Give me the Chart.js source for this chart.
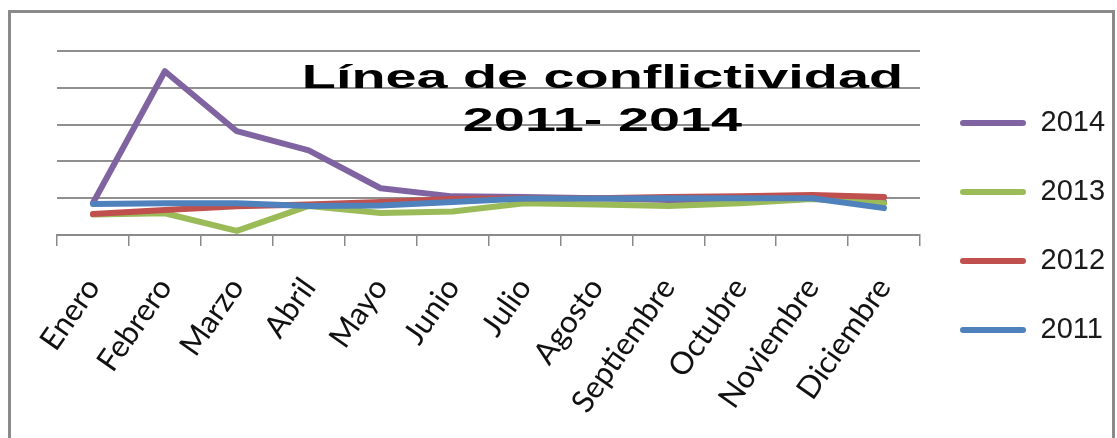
<!DOCTYPE html>
<html>
<head>
<meta charset="utf-8">
<script src="https://cdn.jsdelivr.net/npm/chart.js@4"></script>
<style>
  html, body { margin: 0; padding: 0; background: #fff; }
  body { width: 1117px; height: 438px; position: relative; overflow: hidden; }
  #frame {
    position: absolute; left: 8px; top: 10px; width: 1107px; height: 500px;
    box-sizing: border-box; border: 3px solid #8a8a8a;
  }
  #wrap { position: absolute; left: 0; top: 0; width: 1117px; height: 438px; }
</style>
</head>
<body>
<div id="frame"></div>
<div id="wrap"><canvas id="chart"></canvas></div>
<script>
// Months on the x axis
const months = ['Enero', 'Febrero', 'Marzo', 'Abril', 'Mayo', 'Junio', 'Julio',
                'Agosto', 'Septiembre', 'Octubre', 'Noviembre', 'Diciembre'];

// Values (no scale shown, gridlines every 10 units)
const y2014 = [8.7, 44.5, 28.2, 23.0, 12.7, 10.5, 10.3, 10.0, 9.5, 8.8, 10.0, 9.0];
const y2013 = [5.6, 5.9, 1.1, 7.9, 6.0, 6.4, 8.6, 8.3, 7.9, 8.6, 9.8, 8.6];
const y2012 = [5.7, 6.8, 7.8, 8.3, 9.0, 9.8, 10.0, 10.0, 10.3, 10.5, 10.9, 10.3];
const y2011 = [8.4, 8.6, 8.6, 7.9, 8.0, 9.0, 9.9, 9.9, 10.0, 10.0, 10.0, 7.3];

const titleLines = ['Línea de conflictividad', '2011- 2014'];

// Title sits inside the plot area, drawn wide like the original
const insideTitle = {
    id: 'insideTitle',
    afterDraw(chart) {
        const { ctx, chartArea } = chart;
        const w = chartArea.right - chartArea.left;
        const cx = chartArea.left + w * 0.632;
        ctx.save();
        ctx.font = 'bold 33px "Liberation Sans", Arial, sans-serif';
        ctx.fillStyle = '#000';
        ctx.textAlign = 'center';
        ctx.textBaseline = 'alphabetic';
        [88, 131].forEach((base, i) => {
            ctx.save();
            ctx.translate(cx, base);
            ctx.scale(1.69, 1);
            ctx.fillText(titleLines[i], 0, 0);
            ctx.restore();
        });
        ctx.restore();
    }
};

// let the month labels run below the x scale box without being clipped
const labelRoom = {
    id: 'labelRoom',
    afterLayout(chart) {
        chart.scales.x.bottom = chart.height;
    }
};

const makeSet = (label, data, color, order) => ({
    label: label,
    data: data,
    borderColor: color,
    backgroundColor: color,
    borderWidth: 6,
    borderCapStyle: 'round',
    borderJoinStyle: 'round',
    pointRadius: 0,
    tension: 0,
    fill: false,
    order: order
});

new Chart(document.getElementById('chart'), {
    type: 'line',
    data: {
        labels: months,
        datasets: [
            makeSet('2014', y2014, '#8064A2', 4),
            makeSet('2013', y2013, '#9BBB59', 3),
            makeSet('2012', y2012, '#C0504D', 2),
            makeSet('2011', y2011, '#4F81BD', 1)
        ]
    },
    options: {
        responsive: true,
        maintainAspectRatio: false,
        animation: false,
        layout: {
            padding: { left: 57, top: 51, right: 7, bottom: 36 }
        },
        scales: {
            x: {
                offset: true,
                afterFit: (scale) => { scale.height = 167; },
                grid: {
                    offset: true,
                    drawOnChartArea: false,
                    drawTicks: true,
                    tickLength: 11,
                    color: '#8a8a8a',
                    lineWidth: 1.5
                },
                border: { display: true, color: '#8a8a8a', width: 2 },
                ticks: {
                    autoSkip: false,
                    minRotation: 55,
                    maxRotation: 55,
                    padding: 25,
                    color: '#111',
                    font: { family: 'Lato, "Open Sans", sans-serif', size: 31 }
                }
            },
            y: {
                min: 0,
                max: 50,
                ticks: { display: false, stepSize: 10 },
                grid: { color: '#8f8f8f', lineWidth: 2, drawTicks: false },
                border: { display: false }
            }
        },
        plugins: {
            tooltip: { enabled: false },
            legend: {
                position: 'right',
                align: 'center',
                maxWidth: 190,
                labels: {
                    boxWidth: 66,
                    boxHeight: 6,
                    useBorderRadius: true,
                    borderRadius: 3,
                    padding: 40,
                    color: '#1a1a1a',
                    font: { family: '"Liberation Sans", Arial, sans-serif', size: 29 },
                    sort: (a, b) => a.datasetIndex - b.datasetIndex,
                    generateLabels: (chart) => {
                        const items = Chart.defaults.plugins.legend.labels.generateLabels(chart);
                        items.forEach(it => { it.lineWidth = 0; });
                        return items;
                    }
                }
            }
        }
    },
    plugins: [insideTitle, labelRoom]
});
</script>
</body>
</html>
